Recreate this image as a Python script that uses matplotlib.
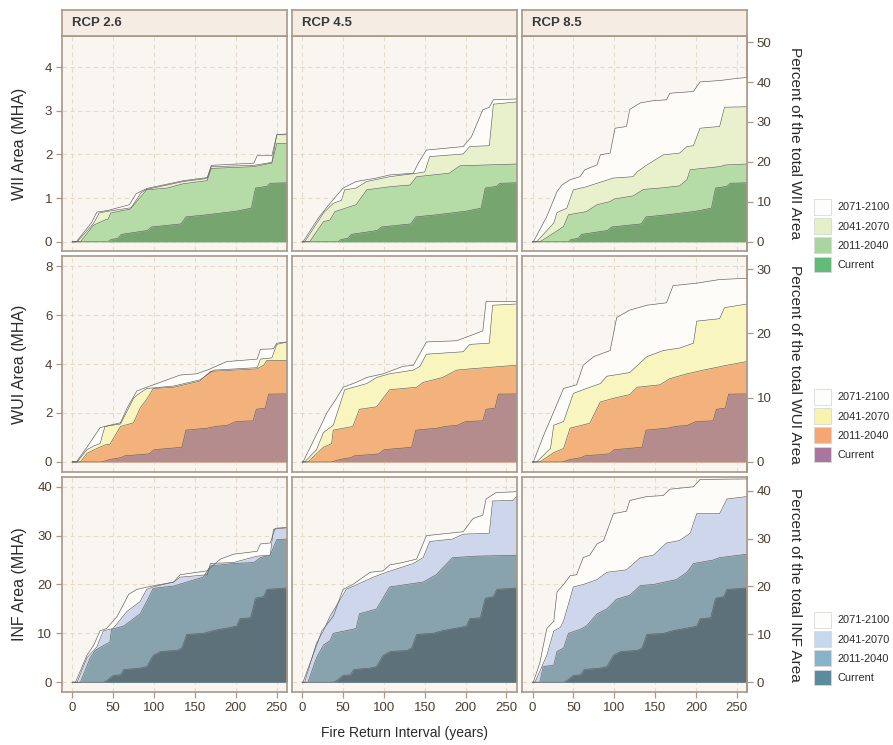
import matplotlib

matplotlib.use("Agg")
import matplotlib.pyplot as plt
import numpy as np
from matplotlib.patches import Patch

plt.rcParams["font.family"] = ["Liberation Sans", "DejaVu Sans"]

# cumulative area (MHA) vs fire return interval (years)
WII_CURRENT = [(0, 0), (44, 0), (47, 0.05), (56, 0.08), (60, 0.17), (92, 0.26), (97, 0.34), (133, 0.41),
               (139, 0.57), (165, 0.62), (200, 0.7), (219, 0.77), (224, 1.23), (238, 1.27), (242, 1.34),
               (262.5, 1.35)]
WII_26_2011 = [(0, 0), (10, 0), (26, 0.38), (40, 0.5), (44, 0.52), (47, 0.66), (71, 0.75), (91, 1.19),
               (116, 1.23), (136, 1.33), (165, 1.4), (170, 1.68), (222, 1.72), (238, 1.78), (244, 1.8),
               (250, 2.25), (262.5, 2.25)]
WII_26_2041 = [(0, 0), (6, 0), (26, 0.42), (33, 0.66), (44, 0.7), (72, 0.78), (84, 1.12), (91, 1.2),
               (116, 1.3), (136, 1.38), (165, 1.45), (170, 1.72), (222, 1.75), (238, 1.8), (244, 1.82),
               (250, 2.45), (262.5, 2.45)]
WII_26_2071 = [(0, 0), (5, 0), (24, 0.45), (30, 0.68), (44, 0.72), (70, 0.85), (78, 1.1), (91, 1.22),
               (116, 1.32), (136, 1.4), (165, 1.47), (170, 1.75), (222, 1.8), (226, 1.97), (244, 1.97),
               (250, 2.45), (262.5, 2.47)]
WII_45_2011 = [(0, 0), (9, 0), (26, 0.46), (34, 0.5), (40, 0.69), (66, 0.85), (79, 1.19), (107, 1.26),
               (132, 1.3), (140, 1.49), (180, 1.57), (193, 1.74), (262.5, 1.78)]
WII_45_2041 = [(0, 0), (3, 0), (26, 0.66), (38, 0.88), (48, 0.95), (52, 1.19), (66, 1.23), (79, 1.38),
               (107, 1.49), (140, 1.57), (150, 1.6), (156, 1.95), (197, 2.01), (205, 2.18), (229, 2.2),
               (234, 3.15), (262.5, 3.2)]
WII_45_2071 = [(0, 0), (1, 0), (20, 0.55), (34, 0.88), (50, 1.23), (66, 1.38), (91, 1.46), (107, 1.53),
               (136, 1.57), (142, 1.8), (152, 2.1), (197, 2.18), (207, 2.4), (221, 3.02), (229, 3.08),
               (234, 3.25), (262.5, 3.27)]
WII_85_2011 = [(0, 0), (9, 0), (26, 0.2), (38, 0.35), (44, 0.62), (66, 0.69), (79, 0.85), (95, 0.92),
               (100, 0.98), (123, 1.05), (136, 1.2), (156, 1.23), (180, 1.28), (189, 1.42), (193, 1.65),
               (229, 1.72), (237, 1.76), (262.5, 1.78)]
WII_85_2041 = [(0, 0), (5, 0), (26, 0.43), (30, 0.67), (42, 0.77), (50, 1.19), (66, 1.26), (79, 1.34),
               (99, 1.46), (123, 1.49), (128, 1.6), (140, 1.76), (160, 1.99), (180, 2.03), (189, 2.18),
               (197, 2.2), (205, 2.6), (229, 2.64), (235, 3.08), (262.5, 3.09)]
WII_85_2071 = [(0, 0), (1, 0), (17.5, 0.58), (30, 1.15), (36, 1.3), (46, 1.42), (58, 1.49), (64, 1.65),
               (79, 1.76), (83, 1.99), (95, 2.03), (101, 2.6), (115, 2.64), (119, 3.03), (132, 3.18),
               (148, 3.23), (164, 3.25), (168, 3.4), (197, 3.44), (205, 3.66), (229, 3.69), (250, 3.74),
               (262.5, 3.76)]

WUI_CURRENT = [(0, 0), (36, 0), (46, 0.1), (60, 0.18), (64, 0.25), (94, 0.33), (100, 0.5), (134, 0.6),
               (139, 1.3), (165, 1.38), (175, 1.45), (190, 1.5), (200, 1.65), (221, 1.68), (225, 2.15),
               (236, 2.2), (240, 2.77), (262.5, 2.78)]
WUI_26_2011 = [(0, 0), (10, 0), (18, 0.35), (30, 0.55), (42, 0.72), (46, 0.72), (59, 1.45), (75, 1.6),
               (83, 2.2), (91, 2.55), (99, 3.0), (124, 3.05), (156, 3.3), (169, 3.7), (197, 3.75),
               (226, 3.8), (234, 3.95), (238, 4.15), (262.5, 4.15)]
WUI_26_2041 = [(0, 0), (6, 0), (18, 0.5), (26, 0.65), (34, 0.75), (40, 1.45), (59, 1.55), (75, 2.6),
               (80, 2.75), (91, 3.0), (124, 3.1), (156, 3.35), (173, 3.75), (226, 3.85), (230, 4.2),
               (244, 4.25), (250, 4.8), (262.5, 4.9)]
WUI_26_2071 = [(0, 0), (5, 0), (18, 0.6), (34, 1.4), (46, 1.5), (59, 1.6), (67, 2.2), (79, 2.9),
               (91, 3.05), (132, 3.55), (152, 3.6), (165, 3.75), (189, 4.1), (226, 4.2), (230, 4.6),
               (246, 4.62), (250, 4.85), (262.5, 4.9)]
WUI_45_2011 = [(0, 0), (7, 0), (26, 0.6), (36, 0.75), (38, 1.3), (62, 1.45), (70, 2.15), (91, 2.25),
               (107, 2.95), (140, 3.05), (148, 3.25), (172, 3.45), (189, 3.75), (205, 3.8), (262.5, 3.95)]
WUI_45_2041 = [(0, 0), (3, 0), (17.5, 0.5), (26, 1.2), (38, 1.5), (52, 2.95), (79, 3.2), (91, 3.45),
               (107, 3.6), (136, 3.75), (144, 3.9), (152, 4.4), (197, 4.5), (205, 4.8), (229, 4.85),
               (233, 6.4), (262.5, 6.45)]
WUI_45_2071 = [(0, 0), (1, 0), (21.6, 1.4), (30, 2.0), (42, 2.6), (50, 3.05), (66, 3.25), (79, 3.45),
               (99, 3.6), (123, 3.9), (136, 3.95), (152, 4.9), (189, 4.95), (209, 5.2), (221, 5.35),
               (225, 6.55), (262.5, 6.55)]
WUI_85_2011 = [(0, 0), (9, 0), (26, 0.38), (38, 0.55), (46, 1.38), (70, 1.58), (83, 2.45), (99, 2.6),
               (119, 2.75), (128, 3.05), (156, 3.15), (168, 3.4), (189, 3.6), (209, 3.75), (238, 3.95),
               (262.5, 4.1)]
WUI_85_2041 = [(0, 0), (5, 0), (22, 0.55), (26, 1.5), (38, 1.65), (50, 2.8), (66, 3.0), (83, 3.2),
               (91, 3.5), (119, 3.65), (140, 4.3), (160, 4.55), (180, 4.65), (197, 4.85), (201, 5.75),
               (229, 5.85), (235, 6.3), (262.5, 6.45)]
WUI_85_2071 = [(0, 0), (1, 0), (15, 1.2), (26, 2.05), (38, 3.0), (54, 3.15), (62, 3.95), (75, 4.3),
               (95, 4.55), (103, 5.9), (119, 6.2), (140, 6.4), (164, 6.5), (172, 7.2), (201, 7.3),
               (229, 7.45), (262.5, 7.5)]

INF_CURRENT = [(0, 0), (38, 0), (42, 0.3), (50, 1.4), (59, 1.5), (63, 2.6), (83, 2.9), (91, 3.2), (99, 5.5),
               (108, 6.3), (128, 6.5), (134, 7.0), (140, 9.8), (160, 10.0), (173, 10.6), (193, 11.2),
               (201, 11.5), (205, 13.0), (218, 13.2), (224, 17.2), (234, 17.5), (238, 19.0), (262.5, 19.3)]
INF_26_2011 = [(0, 0), (10, 0), (22, 5.0), (28, 6.5), (38, 7.5), (46, 8.2), (48, 10.8), (63, 11.5),
               (71, 12.5), (83, 14.0), (91, 16.5), (99, 19.2), (124, 19.7), (140, 20.5), (160, 21.5),
               (169, 23.8), (197, 24.3), (222, 24.5), (230, 25.5), (242, 26.0), (250, 29.2), (262.5, 29.3)]
INF_26_2041 = [(0, 0), (6, 0), (18, 5.0), (30, 7.2), (38, 10.5), (50, 11.0), (67, 14.5), (83, 16.5),
               (91, 19.0), (99, 19.5), (124, 20.5), (132, 21.5), (165, 22.0), (169, 24.3), (197, 24.5),
               (226, 25.8), (242, 26.0), (246, 31.3), (262.5, 31.6)]
INF_26_2071 = [(0, 0), (4, 0), (18, 5.5), (26, 7.5), (34, 10.5), (42, 11.0), (55, 13.5), (69, 18.0),
               (79, 19.0), (95, 19.6), (124, 20.5), (132, 22.0), (165, 22.8), (181, 25.2), (197, 26.2),
               (226, 26.8), (230, 28.3), (242, 28.5), (248, 31.5), (262.5, 31.7)]
INF_45_2011 = [(0, 0), (7, 0), (17.5, 5.0), (26, 7.6), (34, 8.5), (38, 10.0), (66, 11.0), (70, 14.0),
               (91, 15.0), (107, 19.5), (148, 20.5), (164, 22.0), (184, 25.5), (213, 25.8), (262.5, 26.0)]
INF_45_2041 = [(0, 0), (3, 0), (17.5, 8.0), (26, 10.5), (34, 13.5), (54, 19.0), (87, 21.5), (103, 22.5),
               (136, 24.3), (148, 25.5), (156, 28.8), (184, 29.3), (197, 30.3), (229, 30.5), (233, 37.1),
               (258, 37.2), (262.5, 38.0)]
INF_45_2071 = [(0, 0), (1, 0), (24, 10.5), (38, 13.5), (50, 19.0), (62, 20.0), (83, 22.5), (99, 22.8),
               (107, 24.0), (123, 24.5), (140, 25.2), (152, 30.0), (197, 30.8), (209, 33.5), (221, 34.2),
               (225, 37.5), (237, 38.8), (262.5, 39.0)]
INF_85_2011 = [(0, 0), (9, 0), (13, 3.2), (26, 3.5), (30, 6.3), (38, 7.0), (44, 10.0), (58, 10.8),
               (66, 11.5), (79, 14.0), (91, 15.0), (103, 17.0), (119, 17.8), (132, 19.8), (148, 20.0),
               (176, 21.0), (189, 22.5), (197, 24.3), (221, 25.0), (229, 25.5), (262.5, 26.2)]
INF_85_2041 = [(0, 0), (3, 0), (17.5, 5.5), (26, 10.5), (34, 11.2), (38, 12.5), (50, 19.5), (62, 20.0),
               (79, 21.0), (91, 22.5), (115, 23.0), (132, 25.5), (148, 26.0), (164, 28.5), (180, 29.0),
               (193, 30.5), (201, 34.5), (229, 34.5), (238, 37.5), (262.5, 38.0)]
INF_85_2071 = [(0, 0), (1, 0), (9, 4.0), (17.5, 11.0), (26, 12.5), (30, 18.5), (38, 20.0), (46, 21.8),
               (54, 22.0), (62, 25.5), (70, 26.0), (79, 28.3), (87, 29.0), (99, 34.5), (115, 35.0),
               (119, 37.2), (140, 38.0), (160, 38.2), (168, 39.5), (197, 40.0), (205, 41.5), (262.5, 41.6)]

SCENARIOS = ["RCP 2.6", "RCP 4.5", "RCP 8.5"]
PERIODS = ["2071-2100", "2041-2070", "2011-2040", "Current"]
ROW_NAMES = ["WII", "WUI", "INF"]
Y_TICKS = [[0, 1, 2, 3, 4], [0, 2, 4, 6, 8], [0, 10, 20, 30, 40]]
PCT_TICKS = [[0, 10, 20, 30, 40, 50], [0, 10, 20, 30], [0, 10, 20, 30, 40]]
PCT_PER_MHA = [10.94, 3.81, 1.02]
X_TICKS = [0, 50, 100, 150, 200, 250]

CURVES = [
    [[WII_26_2071, WII_26_2041, WII_26_2011, WII_CURRENT],
     [WII_45_2071, WII_45_2041, WII_45_2011, WII_CURRENT],
     [WII_85_2071, WII_85_2041, WII_85_2011, WII_CURRENT]],
    [[WUI_26_2071, WUI_26_2041, WUI_26_2011, WUI_CURRENT],
     [WUI_45_2071, WUI_45_2041, WUI_45_2011, WUI_CURRENT],
     [WUI_85_2071, WUI_85_2041, WUI_85_2011, WUI_CURRENT]],
    [[INF_26_2071, INF_26_2041, INF_26_2011, INF_CURRENT],
     [INF_45_2071, INF_45_2041, INF_45_2011, INF_CURRENT],
     [INF_85_2071, INF_85_2041, INF_85_2011, INF_CURRENT]],
]

FILL_COLORS = [
    ["#FDFCF8", "#E8F1CB", "#B5DBA6", "#76A56F"],
    ["#FDFCF8", "#F9F5BE", "#F3B27C", "#B58C8E"],
    ["#FDFCF8", "#CDD6EA", "#88A3AE", "#5C717A"],
]
LEGEND_COLORS = [
    ["#FDFDFB", "#E6F0C6", "#A9D5A0", "#62BB78"],
    ["#FDFDFB", "#F8F4AE", "#F6A672", "#A8769F"],
    ["#FDFDFB", "#C8D8EC", "#86B3C8", "#5A8C9E"],
]

W, H = 893, 745
COLS = [(62, 287), (292, 516.7), (522.3, 747)]
ROWS = [(36, 251), (256, 472), (477, 692)]
YLIMS = [(-0.21, 4.71), (-0.41, 8.41), (-2.0, 42.0)]
LEGEND_TOPS = [199, 389, 612]

BORDER = "#A89886"
PANEL_BG = "#F9F6F2"
STRIP_BG = "#F5EDE3"
TICK_TEXT = "#4E3E30"
GRID = "#E6DBC8"
TITLE_TEXT = "#2B2B2B"


def rect(x0, y0, x1, y1):
    return [x0 / W, 1 - y1 / H, (x1 - x0) / W, (y1 - y0) / H]


def style_panel(ax, row, col):
    ax.set_facecolor(PANEL_BG)
    ax.set_xlim(-12.5, 262.5)
    ax.set_ylim(*YLIMS[row])
    ax.set_xticks(X_TICKS)
    ax.set_yticks(Y_TICKS[row])
    ax.set_axisbelow(True)
    ax.grid(True, color=GRID, linestyle=(0, (4, 3)), linewidth=0.8)
    for spine in ax.spines.values():
        spine.set_color(BORDER)
        spine.set_linewidth(1.2)
    ax.tick_params(colors=BORDER, labelcolor=TICK_TEXT, labelsize=9.5, length=4, width=0.9, pad=3)
    ax.tick_params(axis="x", labelbottom=(row == 2), bottom=(row == 2))
    ax.tick_params(axis="y", labelleft=(col == 0), left=(col == 0))


def draw_panel(ax, row, col):
    for curve, color in zip(CURVES[row][col], FILL_COLORS[row]):
        pts = np.array(curve, dtype=float)
        ax.fill_between(pts[:, 0], 0, pts[:, 1], color=color, linewidth=0)
        ax.plot(pts[:, 0], pts[:, 1], color="#5E5E5E", linewidth=0.45)


def main() -> None:
    fig = plt.figure(figsize=(W / 100, H / 100), dpi=100, facecolor="white")

    for row in range(3):
        y_mid = 1 - (ROWS[row][0] + ROWS[row][1]) / 2 / H
        for col in range(3):
            ax = fig.add_axes(rect(COLS[col][0], ROWS[row][0], COLS[col][1], ROWS[row][1]))
            style_panel(ax, row, col)
            draw_panel(ax, row, col)
            if col == 2:
                f = PCT_PER_MHA[row]
                sec = ax.secondary_yaxis("right", functions=(lambda y, f=f: y * f, lambda p, f=f: p / f))
                sec.set_yticks(PCT_TICKS[row])
                sec.spines["right"].set_color(BORDER)
                sec.spines["right"].set_linewidth(1.2)
                sec.tick_params(colors=BORDER, labelcolor=TICK_TEXT, labelsize=9.5, length=4, width=0.9, pad=3)
            if row == 0:
                strip = fig.add_axes(rect(COLS[col][0], 10, COLS[col][1], 36))
                strip.set_facecolor(STRIP_BG)
                strip.set_xticks([])
                strip.set_yticks([])
                for spine in strip.spines.values():
                    spine.set_color(BORDER)
                    spine.set_linewidth(1.2)
                strip.text(10 / 225, 0.5, SCENARIOS[col], transform=strip.transAxes, ha="left",
                           va="center", fontsize=9.5, fontweight="bold", color="#3A3A3A")

        fig.text(20 / W, y_mid, f"{ROW_NAMES[row]} Area (MHA)", rotation=90, ha="center", va="center",
                 fontsize=11.5, color=TITLE_TEXT)
        fig.text(795 / W, y_mid, f"Percent of the total {ROW_NAMES[row]} Area", rotation=-90,
                 ha="center", va="center", fontsize=11.1, color=TITLE_TEXT)

        handles = [Patch(facecolor=c, edgecolor="#D8D8D8", linewidth=0.6) for c in LEGEND_COLORS[row]]
        fig.legend(handles, PERIODS, loc="upper left", bbox_to_anchor=(814 / W, 1 - LEGEND_TOPS[row] / H),
                   frameon=False, fontsize=7.9, handlelength=1.52, handleheight=1.85,
                   handletextpad=0.58, labelspacing=0.3, borderpad=0, borderaxespad=0,
                   labelcolor=TITLE_TEXT)

    fig.text(404.5 / W, 1 - 733 / H, "Fire Return Interval (years)", ha="center", va="center",
             fontsize=10, color=TITLE_TEXT)

    fig.savefig("out.png", dpi=100, facecolor="white")
    plt.close(fig)


if __name__ == "__main__":
    main()
